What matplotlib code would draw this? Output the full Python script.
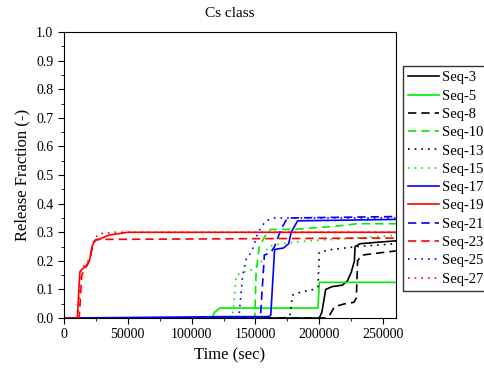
import matplotlib.pyplot as plt
from matplotlib.ticker import MultipleLocator

plt.rcParams['font.family'] = ['Liberation Serif', 'DejaVu Serif']

# ---- data (time in sec, release fraction) ----
t3 = [0, 200000, 202000, 205000, 210000, 218000, 222000, 225000, 227500, 228000, 232000, 245000, 260000]
f3 = [0, 0.0, 0.02, 0.10, 0.11, 0.115, 0.13, 0.16, 0.20, 0.25, 0.26, 0.265, 0.27]

t5 = [0, 116000, 118000, 122000, 199000, 200000, 260000]
f5 = [0, 0.0, 0.02, 0.035, 0.035, 0.125, 0.125]

t8 = [0, 205000, 208000, 212000, 220000, 227000, 229000, 230000, 233000, 260000]
f8 = [0, 0.0, 0.01, 0.04, 0.05, 0.055, 0.07, 0.20, 0.22, 0.235]

t10 = [0, 140000, 149500, 150500, 153000, 158000, 162000, 180000, 210000, 230000, 260000]
f10 = [0, 0.0, 0.005, 0.16, 0.25, 0.29, 0.31, 0.31, 0.32, 0.33, 0.33]

t13 = [0, 172000, 177000, 179000, 185000, 195000, 199000, 200000, 210000, 230000, 260000]
f13 = [0, 0.0, 0.01, 0.08, 0.09, 0.10, 0.11, 0.23, 0.24, 0.25, 0.26]

t15 = [0, 132000, 135000, 140000, 148000, 155000, 160000, 170000, 190000, 230000, 260000]
f15 = [0, 0.0, 0.15, 0.16, 0.17, 0.20, 0.25, 0.26, 0.27, 0.28, 0.29]

t17 = [0, 125000, 160000, 162000, 165000, 172000, 176000, 178000, 183000, 260000]
f17 = [0, 0.005, 0.005, 0.01, 0.24, 0.245, 0.26, 0.30, 0.34, 0.345]

t19 = [0, 10500, 12500, 14000, 17000, 20000, 22000, 24000, 30000, 35000, 50000, 260000]
f19 = [0, 0.0, 0.16, 0.17, 0.18, 0.20, 0.25, 0.27, 0.28, 0.29, 0.30, 0.30]

t21 = [0, 152000, 154000, 157000, 162000, 165000, 170000, 175000, 260000]
f21 = [0, 0.0, 0.01, 0.22, 0.23, 0.25, 0.31, 0.35, 0.355]

t23 = [0, 12000, 14000, 16000, 19000, 21000, 23000, 25000, 260000]
f23 = [0, 0.0, 0.15, 0.17, 0.19, 0.22, 0.26, 0.275, 0.28]

t25 = [0, 137000, 140000, 143000, 147000, 152000, 158000, 165000, 260000]
f25 = [0, 0.0, 0.15, 0.21, 0.23, 0.30, 0.34, 0.35, 0.35]

t27 = [0, 11000, 13000, 15000, 18000, 21000, 23500, 27000, 40000, 260000]
f27 = [0, 0.0, 0.17, 0.18, 0.19, 0.22, 0.27, 0.295, 0.30, 0.30]

labels = ['Seq-3', 'Seq-5', 'Seq-8', 'Seq-10', 'Seq-13', 'Seq-15',
          'Seq-17', 'Seq-19', 'Seq-21', 'Seq-23', 'Seq-25', 'Seq-27']

series = [(t3, f3), (t5, f5), (t8, f8), (t10, f10), (t13, f13), (t15, f15),
          (t17, f17), (t19, f19), (t21, f21), (t23, f23), (t25, f25), (t27, f27)]

colors = ['black', '#00ee00', 'black', '#00ee00', 'black', '#00ee00',
          '#0000ff', '#ff0000', '#0000ff', '#ff0000', '#0000ff', '#ff0000']
styles = ['-', '-', (0, (5, 3)), (0, (5, 3)), (0, (1, 3)), (0, (1, 3)),
          '-', '-', (0, (5, 3)), (0, (5, 3)), (0, (1, 3)), (0, (1, 3))]

fig = plt.figure(figsize=(4.84, 3.69), dpi=100)
ax = fig.add_axes([0.132, 0.138, 0.686, 0.775])

for (t, f), lab, c, ls in zip(series, labels, colors, styles):
    ax.plot(t, f, color=c, linestyle=ls, linewidth=1.2, label=lab)

ax.set_xlim(0, 260000)
ax.set_ylim(0, 1.0)
ax.xaxis.set_major_locator(MultipleLocator(50000))
ax.xaxis.set_minor_locator(MultipleLocator(25000))
ax.yaxis.set_major_locator(MultipleLocator(0.1))
ax.yaxis.set_minor_locator(MultipleLocator(0.05))
ax.yaxis.set_major_formatter(plt.FuncFormatter(lambda v, p: f'{v:.1f}'))
ax.tick_params(which='both', direction='out', top=False, right=False, labelsize=10)
ax.tick_params(which='major', length=4)
ax.tick_params(which='minor', length=2.5)

ax.set_title('Cs class', fontsize=11, pad=11)
ax.set_xlabel('Time (sec)', fontsize=12)
ax.set_ylabel('Release Fraction (-)', fontsize=12)

leg = fig.legend(loc='upper left', bbox_to_anchor=(403 / 484, 1 - 66 / 369),
                 fontsize=10.5, handlelength=2.1, handletextpad=0.2,
                 labelspacing=0.35, borderpad=0.35, frameon=True, fancybox=False,
                 edgecolor='black', borderaxespad=0)
leg.get_frame().set_linewidth(1.0)

plt.savefig('out.png', dpi=100)
